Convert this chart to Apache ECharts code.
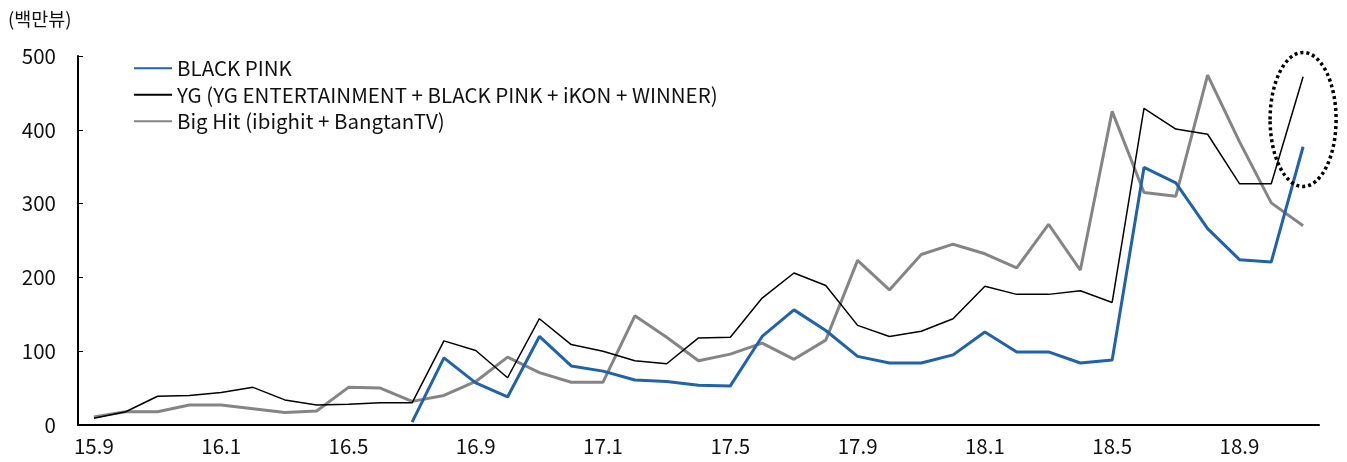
<!DOCTYPE html>
<html>
<head>
<meta charset="utf-8">
<script src="https://cdn.jsdelivr.net/npm/echarts@6/dist/echarts.min.js"></script>
<style>
    html, body { margin: 0; padding: 0; background: #fff; }
    #main { width: 1347px; height: 462px; }
</style>
</head>
<body>
<div id="main"></div>
<script>
    // 15.9 ~ 18.11, 월별
    const months = ['15.9','15.10','15.11','15.12',
        '16.1','16.2','16.3','16.4','16.5','16.6','16.7','16.8','16.9','16.10','16.11','16.12',
        '17.1','17.2','17.3','17.4','17.5','17.6','17.7','17.8','17.9','17.10','17.11','17.12',
        '18.1','18.2','18.3','18.4','18.5','18.6','18.7','18.8','18.9','18.10','18.11']

    const blackPink = [null,null,null,null,null,null,null,null,null,null,
        4,91,57,38,120,80,73,61,59,54,
        53,120,156,128,93,84,84,95,126,99,
        99,84,88,349,328,266,224,221,377]

    const yg = [9,18,39,40,44,51,34,27,28,30,
        30,114,101,64,144,109,100,87,83,118,
        119,172,206,189,135,120,127,144,188,177,
        177,182,166,429,401,394,327,327,472]

    const bigHit = [11,18,18,27,27,22,17,19,51,50,
        32,40,59,92,71,58,58,148,119,87,
        96,111,89,115,223,183,231,245,232,213,
        272,210,425,315,310,474,384,301,270]

    const yTicks = [0, 100, 200, 300, 400, 500]

    const font = "'Noto Sans CJK KR', 'Noto Sans', sans-serif"

    let myChart = echarts.init(document.getElementById('main'))
    myChart.setOption({
        animation: false,
        textStyle: {fontFamily: font},
        grid: {
            left: 78,
            right: 28,
            top: 56,
            bottom: 37
        },
        legend: {
            orient: 'vertical',
            left: 133,
            top: 58,
            padding: 0,
            itemWidth: 38,
            itemHeight: 14,
            itemGap: 6,
            itemStyle: {opacity: 0},
            textStyle: {
                color: '#111',
                fontSize: 20.5,
                lineHeight: 20.5,
                fontFamily: font
            },
            data: ['BLACK PINK', 'YG (YG ENTERTAINMENT + BLACK PINK + iKON + WINNER)', 'Big Hit (ibighit + BangtanTV)']
        },
        title: {
            text: '(백만뷰)',
            left: 3,
            top: 5,
            textStyle: {
                fontSize: 18.5,
                fontWeight: 'normal',
                color: '#111',
                fontFamily: font
            }
        },
        xAxis: {
            type: 'category',
            data: months,
            boundaryGap: true,
            axisLine: {
                lineStyle: {color: '#000', width: 2}
            },
            axisTick: {
                inside: true,
                interval: 3,
                length: 5,
                lineStyle: {color: '#000', width: 1}
            },
            axisLabel: {
                interval: 3,
                margin: 11,
                fontSize: 20.5,
                color: '#111',
                fontFamily: font
            },
            splitLine: {show: false}
        },
        yAxis: {
            type: 'value',
            min: 0,
            max: 500,
            interval: 100,
            axisLine: {
                show: true,
                lineStyle: {color: '#000', width: 2}
            },
            axisTick: {
                show: true,
                inside: true,
                length: 5,
                lineStyle: {color: '#000', width: 1}
            },
            axisLabel: {
                margin: 22,
                fontSize: 20.5,
                color: '#111',
                fontFamily: font,
                formatter: v => yTicks.includes(v) ? String(v) : ''
            },
            splitLine: {show: false}
        },
        series: [
            {
                name: 'BLACK PINK',
                type: 'line',
                data: blackPink,
                symbol: 'none',
                connectNulls: false,
                z: 4,
                lineStyle: {color: '#1f62ad', width: 3},
                itemStyle: {color: '#1f62ad'}
            },
            {
                name: 'YG (YG ENTERTAINMENT + BLACK PINK + iKON + WINNER)',
                type: 'line',
                data: yg,
                symbol: 'none',
                z: 3,
                lineStyle: {color: '#000', width: 1.5},
                itemStyle: {color: '#000'}
            },
            {
                name: 'Big Hit (ibighit + BangtanTV)',
                type: 'line',
                data: bigHit,
                symbol: 'none',
                z: 2,
                lineStyle: {color: '#858585', width: 3},
                itemStyle: {color: '#858585'}
            }
        ]
    })

    // 마지막 달 강조 점선 타원
    let c = myChart.convertToPixel({xAxisIndex: 0, yAxisIndex: 0}, [months[months.length - 1], 414])
    myChart.setOption({
        graphic: [{
            type: 'ellipse',
            shape: {cx: c[0], cy: c[1], rx: 33, ry: 67},
            style: {fill: 'none', stroke: '#000', lineWidth: 3.5, lineDash: [3, 3]},
            z: 10
        }]
    })
</script>
</body>
</html>
